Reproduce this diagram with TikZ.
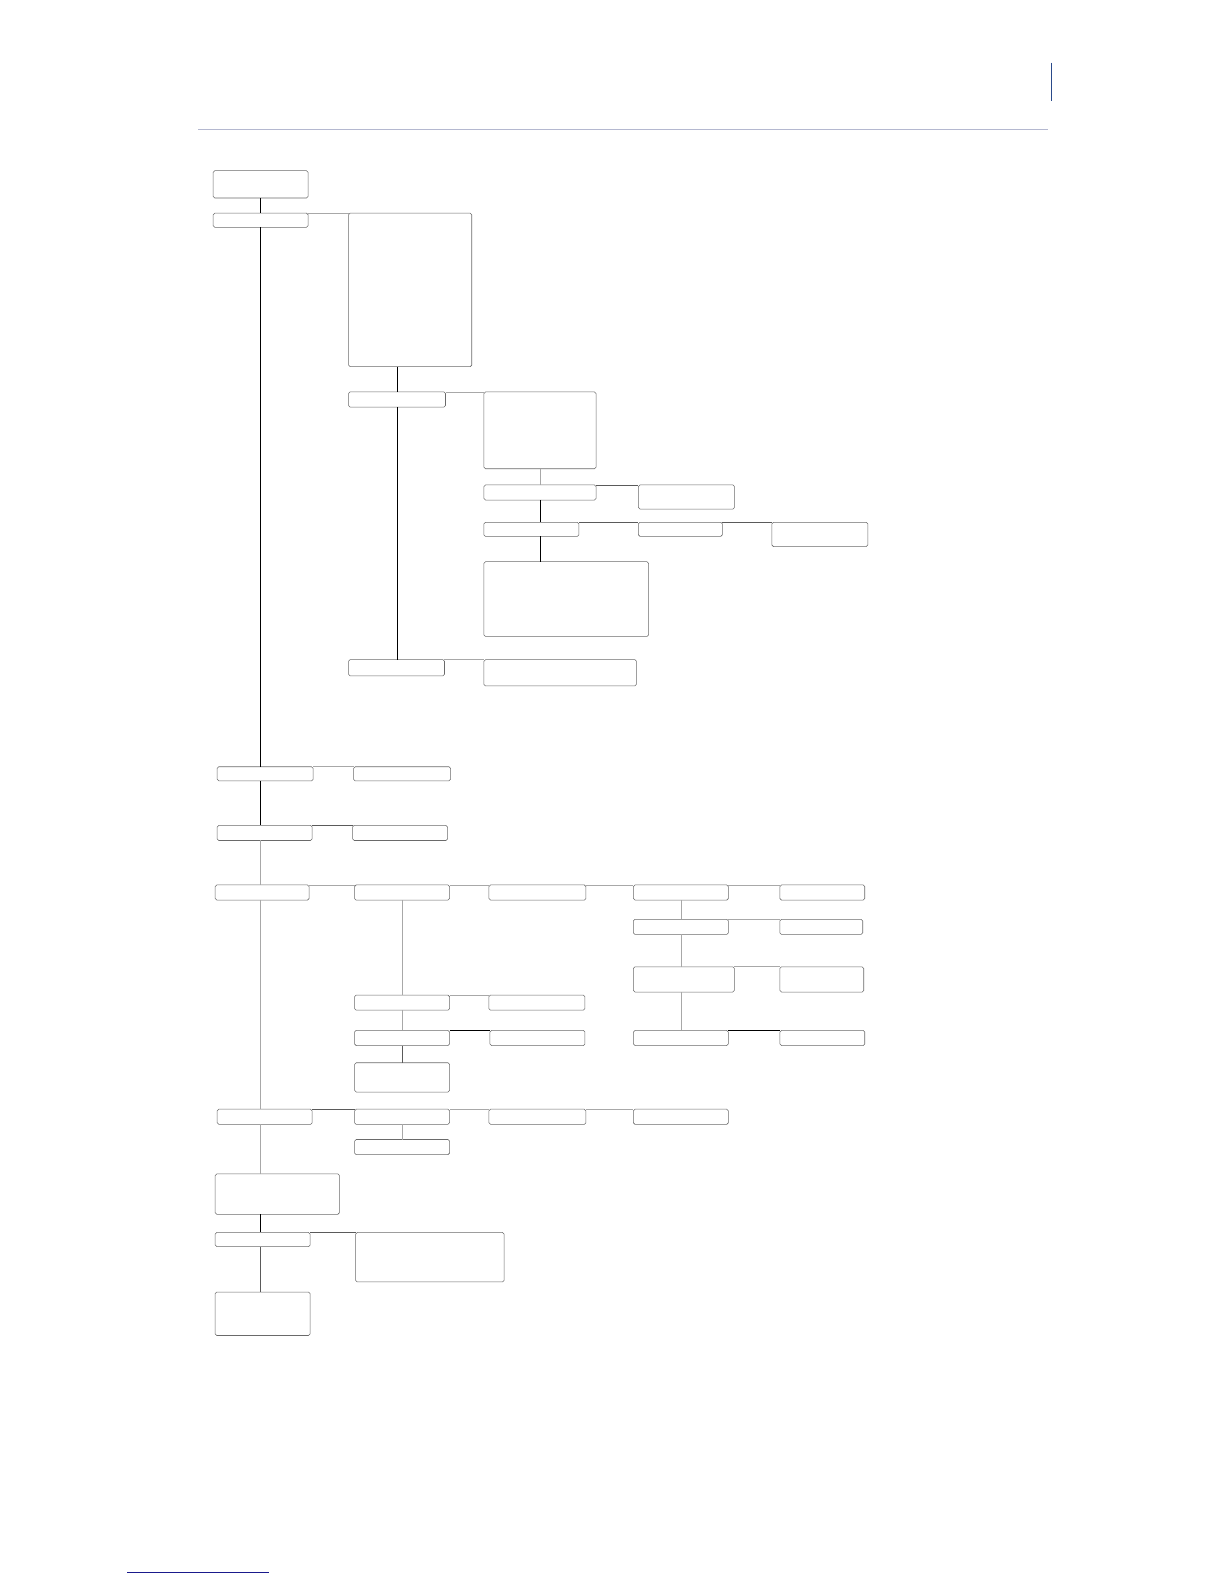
\documentclass[tikz,border=0pt]{standalone}
\usetikzlibrary{calc}
\definecolor{rulecol}{HTML}{B4B8D0}
\definecolor{topblue}{HTML}{2A4A8A}
\definecolor{botnavy}{HTML}{1A1A8C}
\definecolor{boxcol}{HTML}{6A6A6A}
\definecolor{lgray}{HTML}{A8A8A8}
\definecolor{dgray}{HTML}{5A5A5A}
\tikzset{
  box/.style={draw=boxcol, line width=0.55pt, rounded corners=1.6pt, inner sep=0pt, outer sep=0pt, fill=white},
  blk/.style={draw=black, line width=0.75pt},
  gry/.style={draw=lgray, line width=0.7pt},
  dgr/.style={draw=dgray, line width=0.7pt},
}
\newcommand{\mybox}[5]{\node[box, minimum width={(#4-#2)*1.0099pt}, minimum height={(#5-#3)*1.0099pt}] (#1) at ({(#2+#4)/2},{(#3+#5)/2}) {};}
\begin{document}
\begin{tikzpicture}[x=1.0099pt,y=-1.0099pt]
\useasboundingbox (0,0) rectangle (1212,1568);
% page decorations
\coordinate (ra) at (196,128); \coordinate (rb) at (1037,128);
\draw[rulecol, line width=1pt] (ra) -- (rb);
\coordinate (va) at (1041,62); \coordinate (vb) at (1041,100);
\draw[topblue, line width=0.8pt] (va) -- (vb);
\coordinate (ba) at (126,1557); \coordinate (bb) at (266,1557);
\draw[botnavy, line width=1pt] (ba) -- (bb);

% connectors first (boxes drawn on top)
\mybox{B1}{211}{169}{305}{196}
\mybox{B2}{211}{211}{305}{225}
\mybox{B3}{345}{211}{467}{363}
\mybox{B4}{345}{388}{441}{403}
\mybox{B5}{479}{388}{590}{464}
\mybox{B6}{479}{480}{590}{495}
\mybox{B7}{632}{480}{727}{504}
\mybox{B8}{479}{517}{573}{531}
\mybox{B9}{632}{517}{715}{531}
\mybox{B10}{764}{517}{859}{541}
\mybox{B11}{479}{556}{642}{630}
\mybox{B12}{345}{653}{440}{669}
\mybox{B13}{479}{653}{630}{679}
\mybox{B14}{215}{759}{310}{773}
\mybox{B15}{350}{759}{446}{773}
\mybox{B16}{215}{817}{309}{832}
\mybox{B17}{349}{817}{443}{832}
\mybox{B18}{213}{876}{306}{891}
\mybox{B19}{351}{876}{445}{891}
\mybox{B20}{484}{876}{580}{891}
\mybox{B21}{627}{876}{721}{891}
\mybox{B22}{772}{876}{856}{891}
\mybox{B23}{351}{985}{445}{1000}
\mybox{B24}{484}{985}{579}{1000}
\mybox{B25}{351}{1020}{445}{1035}
\mybox{B26}{485}{1020}{579}{1035}
\mybox{B27}{351}{1052}{445}{1081}
\mybox{B28}{627}{910}{721}{925}
\mybox{B29}{772}{910}{854}{925}
\mybox{B30}{627}{957}{727}{982}
\mybox{B31}{772}{957}{855}{982}
\mybox{B32}{627}{1020}{721}{1035}
\mybox{B33}{772}{1020}{856}{1035}
\mybox{B34}{215}{1098}{309}{1113}
\mybox{B35}{351}{1098}{445}{1113}
\mybox{B36}{484}{1098}{580}{1113}
\mybox{B37}{627}{1098}{721}{1113}
\mybox{B38}{351}{1128}{445}{1143}
\mybox{B39}{213}{1162}{336}{1202}
\mybox{B40}{213}{1220}{307}{1234}
\mybox{B41}{352}{1220}{499}{1269}
\mybox{B42}{213}{1279}{307}{1322}

% main spine
\draw[blk] (B1.south) -- (B2.north);
\draw[blk] (B2.south) -- (B2.south |- B14.north);
\draw[blk] (B2.south |- B14.south) -- (B2.south |- B16.north);
\draw[gry] (B2.south |- B16.south) -- (B2.south |- B18.north);
\draw[gry] (B2.south |- B18.south) -- (B2.south |- B34.north);
\draw[gry] (B2.south |- B34.south) -- (B2.south |- B39.north);
\draw[blk] (B2.south |- B39.south) -- (B2.south |- B40.north);
\draw[dgr] (B2.south |- B40.south) -- (B2.south |- B42.north);

% upper branch
\draw[gry] (B2.north east) -- (B3.north west);
\draw[blk] (B4.north |- B3.south) -- (B4.north);
\draw[gry] (B4.north east) -- (B5.north west);
\draw[blk] (B4.south) -- (B4.south |- B12.north);
\draw[gry] (B5.south) -- (B6.north);
\draw[dgr] (B6.north east) -- (B7.north west);
\draw[blk] (B6.south) -- (B6.south |- B8.north);
\draw[dgr] (B8.north east) -- (B9.north west);
\draw[dgr] (B9.north east) -- (B10.north west);
\draw[blk] (B6.south |- B8.south) -- (B6.south |- B11.north);
\draw[gry] (B12.north east) -- (B13.north west);

% middle rows
\draw[gry] (B14.north east) -- (B15.north west);
\draw[dgr] (B16.north east) -- (B17.north west);
\draw[gry] (B18.north east) -- (B19.north west);
\draw[gry] (B19.north east) -- (B20.north west);
\draw[gry] (B20.north east) -- (B21.north west);
\draw[gry] (B21.north east) -- (B22.north west);
\draw[gry] (B19.south) -- (B19.south |- B23.north);
\draw[gry] (B23.north east) -- (B24.north west);
\draw[gry] (B19.south |- B23.south) -- (B19.south |- B25.north);
\draw[blk] (B25.north east) -- (B26.north west);
\draw[dgr] (B19.south |- B25.south) -- (B19.south |- B27.north);
\draw[gry] (B21.south) -- (B21.south |- B28.north);
\draw[gry] (B28.north east) -- (B29.north west);
\draw[gry] (B21.south |- B28.south) -- (B21.south |- B30.north);
\draw[gry] (B30.north east) -- (B31.north west);
\draw[gry] (B21.south |- B30.south) -- (B21.south |- B32.north);
\draw[blk] (B32.north east) -- (B33.north west);

% lower rows
\draw[dgr] (B34.north east) -- (B35.north west);
\draw[gry] (B35.north east) -- (B36.north west);
\draw[gry] (B36.north east) -- (B37.north west);
\draw[gry] (B35.south) -- (B38.north);
\draw[dgr] (B40.north east) -- (B41.north west);
\end{tikzpicture}
\end{document}
